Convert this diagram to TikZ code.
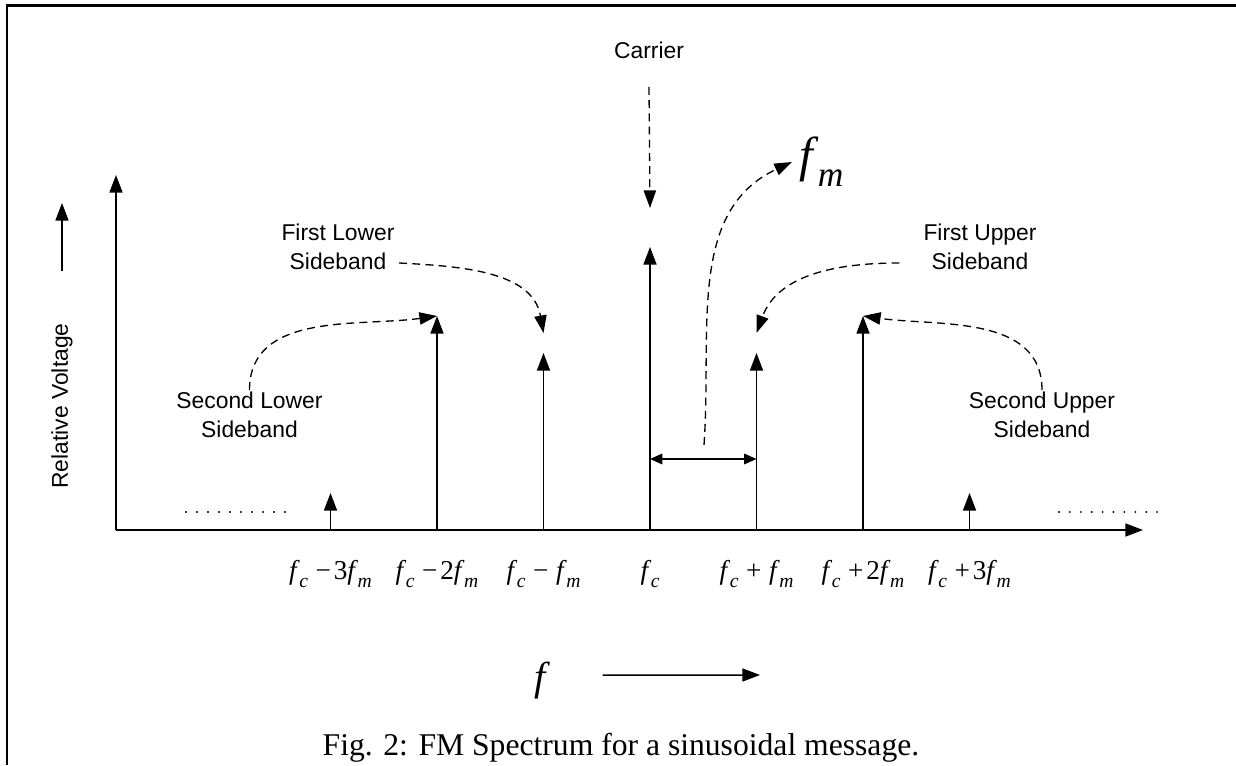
\documentclass[tikz,border=0pt]{standalone}
\usepackage{amsmath}
\usepackage{fontspec}
\setmainfont{Liberation Serif}
\setsansfont{Liberation Sans}
\newfontfamily\timesit{Liberation Serif Italic}
\usetikzlibrary{arrows.meta}
\usetikzlibrary{calc}
\usetikzlibrary{positioning}
\newcommand\fq[1]{{\timesit f}\kern0.1em\raisebox{-0.3em}{\scalebox{0.72}{\timesit #1}}}
\def\lift{0.4}

\begin{document}
\begin{tikzpicture}[
    every node/.style={font=\sffamily\fontsize{13}{16.4}\selectfont,inner sep=1pt},
    frame/.style={line width=1.7pt},
    spec/.style={line width=0.85pt,-{Triangle[length=10pt,width=7.4pt]}},
    dsh/.style={line width=0.75pt,dash pattern=on 4.5pt off 3pt,
        -{Triangle[length=10pt,width=7pt]}},
    dbl/.style={line width=0.85pt,
        {Triangle[length=7pt,width=6pt]}-{Triangle[length=7pt,width=6pt]}},
    tick/.style={font=\rmfamily\fontsize{15.5}{18}\selectfont,anchor=base},
    band/.style={align=center}
]

\useasboundingbox (-2.32,-4.7) rectangle (22.4,10.6);
\draw [frame] (22.4,10.48) -| (-2.18,-4.7);

% axes
\coordinate (o)    at (0,0);
\coordinate (ytop) at (0,7.1);
\coordinate (xend) at (20.54,0);
\draw [spec] (o) -- (ytop);
\draw [spec] (o) -- (xend);

% spectral lines
\coordinate (b1) at ( 4.29,0); \coordinate (t1) at ( 4.29,0.74);
\coordinate (b2) at ( 6.42,0); \coordinate (t2) at ( 6.42,4.28);
\coordinate (b3) at ( 8.55,0); \coordinate (t3) at ( 8.55,3.54);
\coordinate (b4) at (10.68,0); \coordinate (t4) at (10.68,5.66);
\coordinate (b5) at (12.81,0); \coordinate (t5) at (12.81,3.54);
\coordinate (b6) at (14.94,0); \coordinate (t6) at (14.94,4.28);
\coordinate (b7) at (17.07,0); \coordinate (t7) at (17.07,0.74);

\draw [spec] (b1) -- (t1);
\draw [spec] (b2) -- (t2);
\draw [spec] (b3) -- (t3);
\draw [spec] (b4) -- (t4);
\draw [spec] (b5) -- (t5);
\draw [spec] (b6) -- (t6);
\draw [spec] (b7) -- (t7);

\node [tick] (l1) at ( 4.29,-0.98) {\fq{c}\;−\kern0.1em 3\fq{m}};
\node [tick] (l2) at ( 6.42,-0.98) {\fq{c}\;−\kern0.1em 2\fq{m}};
\node [tick] (l3) at ( 8.55,-0.98) {\fq{c}\;−\;\fq{m}};
\node [tick] (l4) at (10.68,-0.98) {\fq{c}};
\node [tick] (l5) at (12.81,-0.98) {\fq{c}\;+\;\fq{m}};
\node [tick] (l6) at (14.94,-0.98) {\fq{c}\;+\kern0.1em 2\fq{m}};
\node [tick] (l7) at (17.07,-0.98) {\fq{c}\;+\kern0.1em 3\fq{m}};

\foreach \i in {0,...,9} {
    \fill ( 1.40+\i*0.22, 0.36) circle (0.6pt);
    \fill (18.86+\i*0.218,0.36) circle (0.6pt);
}

% y label
\node [rotate=90] (rv) at (-1.08,2.48) {Relative Voltage};
\coordinate (vtip) at (-1.08,6.54);
\draw [spec] ($(rv.east)+(0,1.0)$) -- (vtip);

% carrier
\node (car) at (10.66,9.6) {Carrier};
\coordinate (ctip) at (10.68,6.44);
\draw [dsh] ($(car.south)+(0,-0.53)$) -- (ctip);

% spacing f_m
\draw [dbl] ($(b4)+(0,1.42)$) -- ($(b5)+(0,1.42)$);
\coordinate (fmfoot) at (11.76,1.7);
\coordinate (fmtip)  at (13.52,7.36);
\draw [dsh] (fmfoot) to [out=86,in=205] (fmtip);
\node [right=3pt of fmtip,font=\rmfamily\fontsize{28}{30}\selectfont] (fmlab) {\fq{m}};

% sidebands
\node [band] (fls) at ( 4.44,5.66) {First Lower\\Sideband};
\node [band] (fus) at (17.28,5.66) {First Upper\\Sideband};
\node [band] (sls) at ( 2.67,2.30) {Second Lower\\Sideband};
\node [band] (sus) at (18.52,2.30) {Second Upper\\Sideband};

\draw [dsh] ($(fls.east)+(0.05,-0.32)$) to [out=-3,in=100] ($(t3)+(0,\lift)$);
\draw [dsh] ($(fus.west)+(-0.44,-0.32)$) to [out=180,in=70] ($(t5)+(0,\lift)$);
\draw [dsh] (sls.north) to [out=90,in=188] (t2);
\draw [dsh] (sus.north) to [out=90,in=-8] (t6);

% frequency axis label
\node [font=\timesit\fontsize{23}{25}\selectfont] (flab) at (8.48,-3.02) {f};
\coordinate (fend) at (12.88,-2.9);
\draw [spec] ($(flab.east)+(1.1,0.12)$) -- (fend);

\node [font=\rmfamily\fontsize{18}{20}\selectfont] (cap) at (10.1,-4.36)
    {Fig. 2: FM Spectrum for a sinusoidal message.};

\end{tikzpicture}
\end{document}
